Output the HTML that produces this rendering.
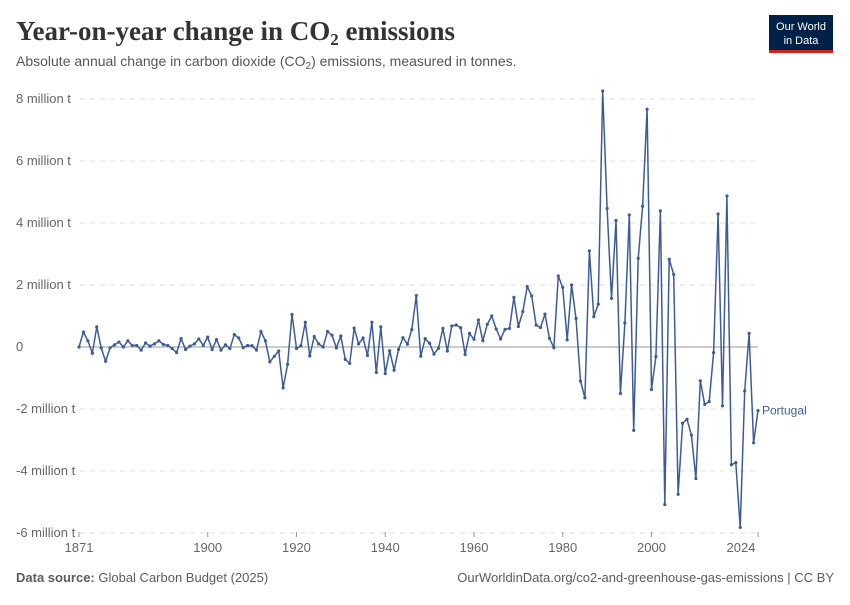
<!DOCTYPE html>
<html><head><meta charset="utf-8"><style>
body{margin:0;width:850px;height:600px;background:#fff;font-family:"Liberation Sans",sans-serif;overflow:hidden}
</style></head><body>
<svg width="850" height="600">
<text x="16" y="40" font-family="Liberation Serif,serif" font-weight="bold" font-size="27" fill="#333">Year-on-year change in CO<tspan font-size="17" dy="5">2</tspan><tspan dy="-5"> emissions</tspan></text>
<text x="16" y="66" font-size="14" fill="#555">Absolute annual change in carbon dioxide (CO<tspan font-size="10" dy="3">2</tspan><tspan dy="-3">) emissions, measured in tonnes.</tspan></text>
<g><rect x="769" y="15" width="64" height="35" fill="#002147"/><rect x="769" y="50" width="64" height="3" fill="#ce261e"/>
<text x="801" y="30" font-size="11" fill="#fff" text-anchor="middle">Our World</text><text x="801" y="44" font-size="11" fill="#fff" text-anchor="middle">in Data</text></g>
<g id="grid"></g><g id="series"></g>
<text x="16" y="582" font-size="13" fill="#5b5b5b"><tspan font-weight="bold">Data source:</tspan> Global Carbon Budget (2025)</text>
<text x="834" y="582" font-size="13" fill="#5b5b5b" text-anchor="end">OurWorldinData.org/co2-and-greenhouse-gas-emissions | CC BY</text>
</svg>
<script>
const years=[];for(let y=1871;y<=2024;y++)years.push(y);
const values=[0,0.48,0.2,-0.2,0.65,-0.03,-0.46,-0.03,0.07,0.16,0,0.2,0.05,0.05,-0.1,0.13,0.03,0.1,0.2,0.08,0.05,-0.05,-0.18,0.27,-0.08,0.03,0.1,0.26,0.05,0.32,-0.08,0.24,-0.1,0.07,-0.05,0.4,0.29,-0.02,0.05,0.04,
-0.1,0.5,0.2,-0.48,-0.3,-0.13,-1.32,-0.56,1.05,-0.05,0.04,0.8,-0.29,0.34,0.1,0,0.5,0.38,-0.03,0.35,-0.4,-0.53,0.61,0.1,0.29,-0.27,0.8,-0.82,0.65,-0.86,-0.12,-0.75,-0.08,0.3,0.09,0.56,1.66,-0.3,0.27,0.12,
-0.23,-0.04,0.6,-0.13,0.68,0.71,0.62,-0.24,0.44,0.25,0.87,0.2,0.73,1.0,0.58,0.26,0.57,0.6,1.6,0.66,1.14,1.95,1.65,0.71,0.63,1.06,0.28,-0.02,2.29,1.92,0.23,2.0,0.92,-1.1,-1.64,
3.1,0.98,1.38,8.26,4.47,1.57,4.08,-1.5,0.78,4.26,-2.69,2.86,4.54,7.67,-1.37,-0.31,4.39,-5.08,2.83,2.34,-4.75,-2.46,-2.33,-2.84,-4.24,-1.09,-1.85,-1.76,-0.18,4.29,-1.9,4.87,-3.8,-3.73,-5.82,-1.42,0.44,-3.09,-2.05];
const yTicks=[8,6,4,2,0,-2,-4,-6];
const yLabels=["8 million t","6 million t","4 million t","2 million t","0","-2 million t","-4 million t","-6 million t"];
const xTicks=[1871,1900,1920,1940,1960,1980,2000,2024];
const NS="http://www.w3.org/2000/svg";
const X=y=>79+(y-1871)*(679/153), Y=v=>347-v*31;
function mk(t,a,p){const e=document.createElementNS(NS,t);for(const k in a)e.setAttribute(k,a[k]);p.appendChild(e);return e;}
const g=document.getElementById('grid'),s=document.getElementById('series');
yTicks.forEach((v,i)=>{
 const l=mk('line',{x1:80,x2:758,y1:Y(v),y2:Y(v),stroke:v===0?'#bbb':'#ddd','stroke-width':v===0?1.5:1,'stroke-dasharray':v===0?'':'5,5'},g);
 
 
 const t=mk('text',{x:16,y:Y(v)+4,'font-size':13,fill:'#666'},g);t.textContent=yLabels[i];
 
 
});
xTicks.forEach(yr=>{
 mk('line',{x1:X(yr),x2:X(yr),y1:532,y2:537,stroke:'#999'},g);
 const t=mk('text',{x:yr===2024?X(yr)-17:X(yr),y:552,'font-size':13,fill:'#666','text-anchor':'middle'},g);t.textContent=yr;
 
 
});
const p=mk('path',{d:values.map((v,i)=>(i?'L':'M')+X(years[i]).toFixed(1)+','+Y(v).toFixed(1)).join(''),fill:'none',stroke:'#3d5c95','stroke-width':1.5},s);


values.forEach((v,i)=>{const c=mk('circle',{cx:X(years[i]),cy:Y(v),r:1.6,fill:'#3d5c95'},s);
 
 });
const lab=mk('text',{x:762,y:Y(values[values.length-1])+4,'font-size':12,fill:'#3d5c95'},s);lab.textContent='Portugal';


</script>
</body></html>
